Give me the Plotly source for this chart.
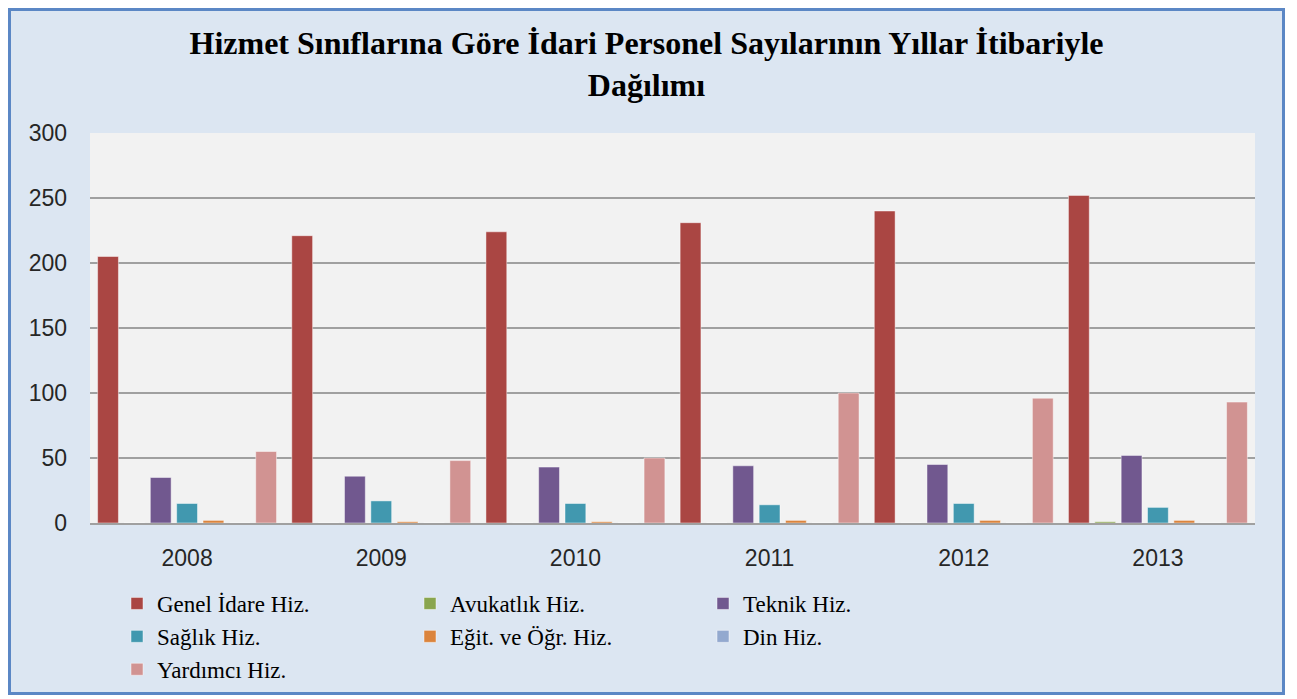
import plotly.graph_objects as go

years = ["2008", "2009", "2010", "2011", "2012", "2013"]

genel_idare = [205, 221, 224, 231, 240, 252]
avukatlik = [0, 0, 0, 0, 0, 1]
teknik = [35, 36, 43, 44, 45, 52]
saglik = [15, 17, 15, 14, 15, 12]
egitim = [2, 1, 1, 2, 2, 2]
din = [0, 0, 0, 0, 0, 0]
yardimci = [55, 48, 50, 100, 96, 93]

series = [
    ("Genel İdare Hiz.", genel_idare, "#AA4643"),
    ("Avukatlık Hiz.", avukatlik, "#89A54E"),
    ("Teknik Hiz.", teknik, "#71588F"),
    ("Sağlık Hiz.", saglik, "#4198AF"),
    ("Eğit. ve Öğr. Hiz.", egitim, "#DB843D"),
    ("Din Hiz.", din, "#93A9CF"),
    ("Yardımcı Hiz.", yardimci, "#D19392"),
]

fig = go.Figure()
for name, values, color in series:
    fig.add_trace(
        go.Bar(
            name=name,
            x=years,
            y=values,
            marker=dict(color=color, line=dict(color="rgba(255,255,255,0.45)", width=1)),
        )
    )

# the page puts the figure 8px in from the top-left corner,
# so page pixels are turned into figure pixels by subtracting 8
OFF = 8
W, H = 1277, 687
L, T = 90 - OFF, 133 - OFF
R = W - (1255 - OFF)
B = H - (523 - OFF)
pw, ph = W - L - R, H - T - B


def px(x):
    # page x pixel -> paper coordinate
    return (x - OFF - L) / pw


def py(y):
    # page y pixel -> paper coordinate
    return (H - B - (y - OFF)) / ph


fig.update_layout(
    width=W,
    height=H,
    margin=dict(l=L, r=R, t=T, b=B, autoexpand=False),
    paper_bgcolor="#DCE6F2",
    plot_bgcolor="#F2F2F2",
    barmode="group",
    bargap=0.05,
    bargroupgap=0.21,
    title=dict(
        text="Hizmet Sınıflarına Göre İdari Personel Sayılarının Yıllar İtibariyle<br>Dağılımı",
        x=0.5,
        xanchor="center",
        y=1 - 46 / H,
        yanchor="top",
        font=dict(family="Liberation Serif", size=32, color="#000000", weight="bold"),
    ),
    font=dict(family="Liberation Sans", size=23, color="#262626"),
    legend=dict(
        orientation="h",
        x=px(117),
        xanchor="left",
        y=py(582),
        yanchor="top",
        entrywidth=248,
        font=dict(family="Liberation Serif", size=23, color="#000000"),
        bgcolor="rgba(0,0,0,0)",
        traceorder="normal",
    ),
    showlegend=True,
    shapes=[
        dict(
            type="rect",
            xref="paper",
            yref="paper",
            x0=px(8 + 1.5),
            x1=px(8 + W - 1.5),
            y0=py(8 + H - 1.5),
            y1=py(8 + 1.5),
            line=dict(color="#5B87C5", width=3),
            fillcolor="rgba(0,0,0,0)",
            layer="below",
        )
    ],
)

fig.update_xaxes(
    showgrid=False,
    showline=True,
    linecolor="#A0A0A0",
    linewidth=2,
    ticks="",
    ticklabelstandoff=13,
    tickfont=dict(family="Liberation Sans", size=23, color="#262626"),
)
fig.update_yaxes(
    range=[0, 300],
    dtick=50,
    showgrid=True,
    gridcolor="#A0A0A0",
    gridwidth=2,
    zeroline=False,
    showline=False,
    ticks="",
    ticklabelstandoff=22,
    tickfont=dict(family="Liberation Sans", size=23, color="#262626"),
)

fig.write_html("out.html")
